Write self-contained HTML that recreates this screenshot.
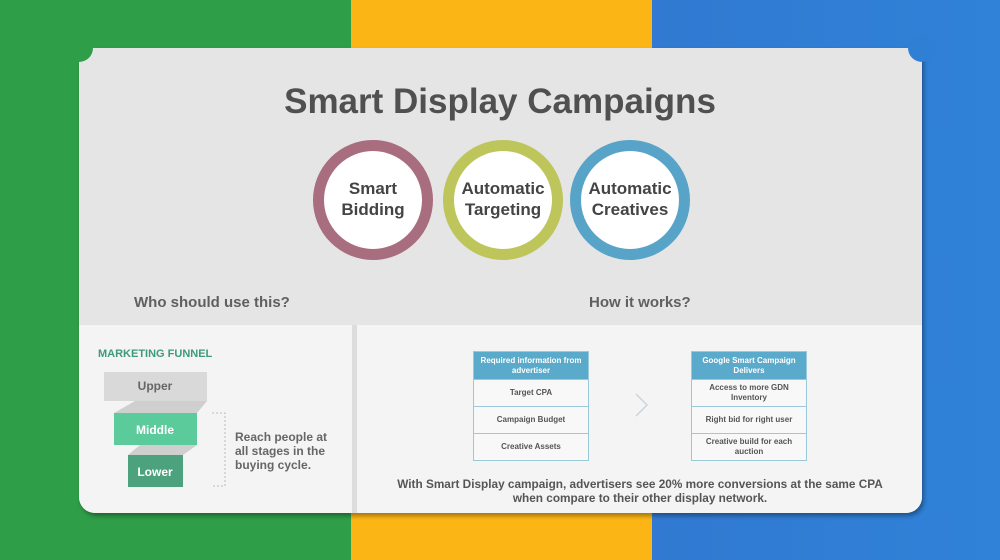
<!DOCTYPE html>
<html><head><style>
*{margin:0;padding:0;box-sizing:border-box}
body{width:1000px;height:560px;position:relative;overflow:hidden;font-family:"Liberation Sans",sans-serif;font-weight:bold;color:#555}
.bg{position:absolute;top:0;height:560px}
.card{position:absolute;left:79px;top:48px;width:843px;height:465px;background:#e5e5e5;border-radius:0 0 16px 16px;box-shadow:2px 3px 4px rgba(0,0,0,.35);overflow:hidden}
.notch{position:absolute;width:28px;height:28px;border-radius:50%;top:34px}
.ab{position:absolute}
.c{position:absolute;width:120px;height:120px;border-radius:50%;background:#fff;border:11px solid;top:140px;display:flex;align-items:center;justify-content:center;text-align:center;font-size:17px;line-height:21px;color:#444;padding-bottom:3px}
.tb{position:absolute;width:116px;border:1px solid #9cc9da;background:#f8f8f8;font-size:8px;text-align:center;color:#555}
.tb div{height:27px;border-top:1px solid #9cc9da;display:flex;align-items:center;justify-content:center;line-height:10px;padding:0 6px}
.tb .h{background:#5aaacb;color:#fff;border-top:none}
</style></head><body>
<div class="bg" style="left:0;width:351px;background:#2f9e48"></div>
<div class="bg" style="left:351px;width:301px;background:#fbb514"></div>
<div class="bg" style="left:652px;width:348px;background:linear-gradient(90deg,#3179d2,#2f82d8)"></div>
<div class="card">
 <div class="ab" style="left:0;top:277px;width:273px;height:188px;background:#f4f4f4"></div>
 <div class="ab" style="left:273px;top:277px;width:5px;height:188px;background:#dcdcdc"></div>
 <div class="ab" style="left:278px;top:277px;width:565px;height:188px;background:#f4f4f4"></div>
</div>
<div class="notch" style="left:65px;background:#2f9e48"></div>
<div class="notch" style="left:908px;background:#2f7fd5"></div>
<div class="ab" style="left:0;top:82px;width:1000px;text-align:center;font-size:35px;color:#505050">Smart Display Campaigns</div>
<div class="c" style="left:313px;border-color:#a86d7f">Smart<br>Bidding</div>
<div class="c" style="left:443px;border-color:#bdc55b">Automatic<br>Targeting</div>
<div class="c" style="left:570px;border-color:#58a4c9">Automatic<br>Creatives</div>
<div class="ab" style="left:134px;top:294px;font-size:15px;color:#606060">Who should use this?</div>
<div class="ab" style="left:589px;top:294px;font-size:15px;color:#606060">How it works?</div>
<div class="ab" style="left:98px;top:348px;font-size:11px;color:#3e9a78">MARKETING FUNNEL</div>
<svg class="ab" style="left:0;top:0" width="1000" height="560">
 <polygon points="114,413 135,401 207,401 197,413" fill="#cfcfcf"/>
 <polygon points="128,455 140,445 197,445 183,455" fill="#cfcfcf"/>
 <rect x="104" y="372" width="103" height="29" fill="#d9d9d9"/>
 <rect x="114" y="413" width="83" height="32" fill="#5ccb9c"/>
 <rect x="128" y="455" width="55" height="32" fill="#4ba27d"/>
 <path d="M212,413 H225 V486 H212" fill="none" stroke="#bbb" stroke-width="1" stroke-dasharray="2,2"/>
 <path d="M636,394 L647,405 L636,416" fill="none" stroke="#c8d6df" stroke-width="1.5"/>
 <text x="155" y="390" text-anchor="middle" font-size="12" fill="#666" font-weight="bold">Upper</text>
 <text x="155" y="434" text-anchor="middle" font-size="12" fill="#fff" font-weight="bold">Middle</text>
 <text x="155" y="476" text-anchor="middle" font-size="12" fill="#fff" font-weight="bold">Lower</text>
</svg>
<div class="ab" style="left:235px;top:430px;font-size:12px;line-height:14px;color:#666">Reach people at<br>all stages in the<br>buying cycle.</div>
<div class="tb" style="left:473px;top:351px">
 <div class="h">Required information from advertiser</div><div>Target CPA</div><div>Campaign Budget</div><div>Creative Assets</div>
</div>
<div class="tb" style="left:691px;top:351px">
 <div class="h">Google Smart Campaign Delivers</div><div>Access to more GDN Inventory</div><div>Right bid for right user</div><div>Creative build for each auction</div>
</div>
<div class="ab" style="left:358px;top:477px;width:564px;text-align:center;font-size:11.8px;line-height:14px;color:#555">With Smart Display campaign, advertisers see 20% more conversions at the same CPA<br>when compare to their other display network.</div>
</body></html>
